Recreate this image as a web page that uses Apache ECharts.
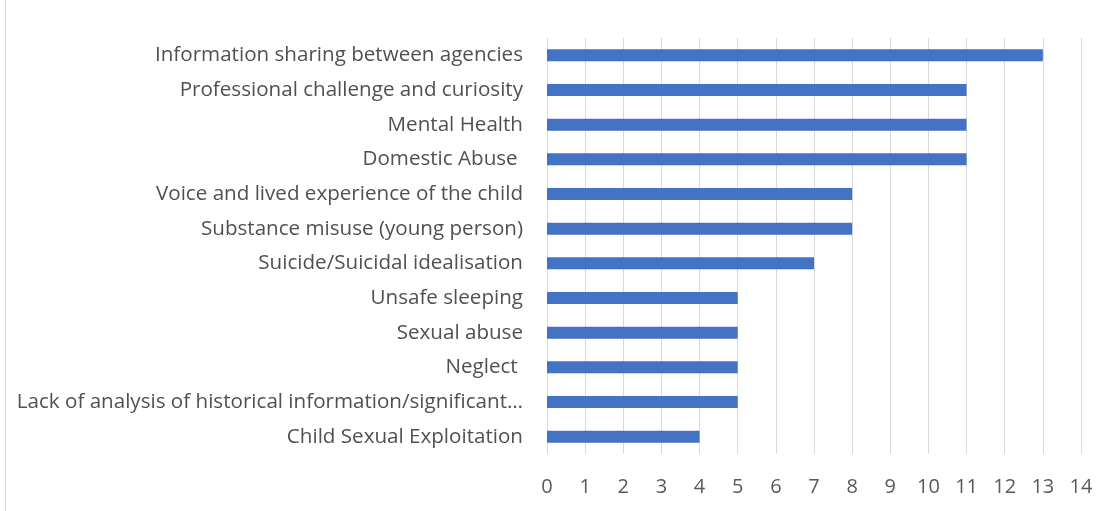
<!DOCTYPE html>
<html>
<head>
<meta charset="utf-8">
<script src="https://cdn.jsdelivr.net/npm/echarts@6/dist/echarts.min.js"></script>
<style>
  html, body { margin: 0; padding: 0; background: #fff; }
  #main { width: 1109px; height: 511px; }
</style>
</head>
<body>
<div id="main"></div>
<script>
// categories, top to bottom as shown
var categories = [
    'Information sharing between agencies',
    'Professional challenge and curiosity',
    'Mental Health',
    'Domestic Abuse ',
    'Voice and lived experience of the child',
    'Substance misuse (young person)',
    'Suicide/Suicidal idealisation',
    'Unsafe sleeping',
    'Sexual abuse',
    'Neglect ',
    'Lack of analysis of historical information/significant\u2026',
    'Child Sexual Exploitation'
];
var counts = [13, 11, 11, 11, 8, 8, 7, 5, 5, 5, 5, 4];
var xTicks = [0, 14, 1]; // min, max, interval

var chart = echarts.init(document.getElementById('main'));

var option = {
    animation: false,
    textStyle: { fontFamily: 'Open Sans' },
    grid: {
        left: 547,
        right: 28,
        top: 38,
        bottom: 57
    },
    xAxis: {
        type: 'value',
        min: xTicks[0],
        max: xTicks[1],
        interval: xTicks[2],
        axisLine: { show: false },
        axisTick: { show: false },
        axisLabel: {
            color: '#595959',
            fontSize: 20,
            margin: 23
        },
        splitLine: {
            lineStyle: { color: '#d9d9d9', width: 1 }
        }
    },
    yAxis: {
        type: 'category',
        inverse: true,
        data: categories,
        axisLine: { show: false },
        axisTick: { show: false },
        axisLabel: {
            color: '#505050',
            fontSize: 20.6,
            margin: 24
        }
    },
    series: [
        {
            type: 'bar',
            data: counts,
            barWidth: 12,
            itemStyle: { color: '#4472c4' }
        }
    ],
    graphic: [
        {   // chart frame edge on the left
            type: 'line',
            shape: { x1: 5.5, y1: 0, x2: 5.5, y2: 511 },
            style: { stroke: '#d9d9d9', lineWidth: 1 }
        }
    ]
};

chart.setOption(option);
window.onresize = chart.resize;
</script>
</body>
</html>
